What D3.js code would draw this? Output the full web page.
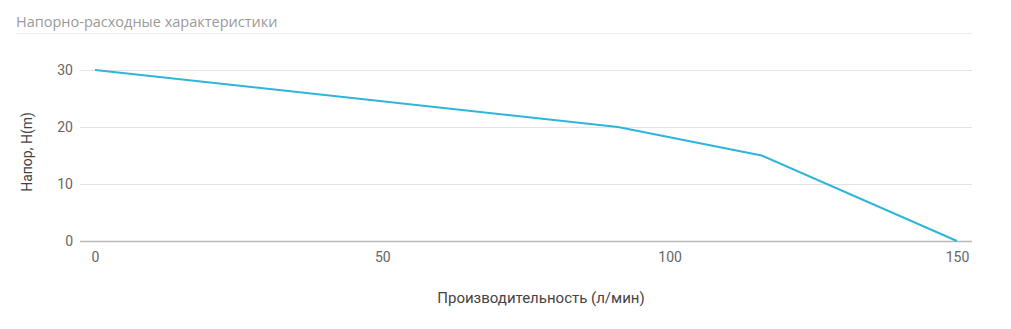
<!DOCTYPE html>
<html>
<head>
<meta charset="utf-8">
<script src="https://cdn.jsdelivr.net/npm/d3@7"></script>
<style>
  body { margin: 0; background: #fff; }
  .title { font-family: "Open Sans", sans-serif; font-size: 14.5px; fill: #9a9a9a; }
  .tick text { font-family: Roboto, sans-serif; font-size: 14px; fill: #666; }
  .axis-title { font-family: Roboto, sans-serif; font-size: 15px; fill: #444; }
</style>
</head>
<body>
<svg id="chart" width="1011" height="329"></svg>
<script>
var flowValues = [0, 91, 116, 150];
var headValues = [30, 20, 15, 0];
var xTicks = [0, 50, 100, 150];
var yTicks = [0, 10, 20, 30];
var titleText = "Напорно-расходные характеристики";
var xTitle = "Производительность (л/мин)";
var yTitle = "Напор, H(m)";

var svg = d3.select("#chart");

// header
svg.append("text").attr("class", "title").attr("x", 16).attr("y", 27).text(titleText);
svg.append("line").attr("x1", 16).attr("x2", 972).attr("y1", 33.5).attr("y2", 33.5)
  .attr("stroke", "#ececec");

var x = d3.scaleLinear().domain([0, 150]).range([95, 957]);
var y = d3.scaleLinear().domain([0, 30]).range([241, 70]);

// grid
svg.append("g").selectAll("line").data(yTicks).enter().append("line")
  .attr("x1", 80).attr("x2", 972)
  .attr("y1", function(d) { return Math.round(y(d)) + 0.5; })
  .attr("y2", function(d) { return Math.round(y(d)) + 0.5; })
  .attr("stroke", function(d) { return d == 0 ? "#b8b8b8" : "#e3e3e3"; })
  .attr("stroke-width", function(d) { return d == 0 ? 1.5 : 1; });

// axes
var yAxis = d3.axisLeft(y).tickValues(yTicks).tickSize(0).tickPadding(0);
svg.append("g").attr("transform", "translate(73,0)").call(yAxis)
  .call(function(g) { g.select(".domain").remove(); });

var xAxis = d3.axisBottom(x).tickValues(xTicks).tickSize(0).tickPadding(0);
svg.append("g").attr("transform", "translate(0,252)").call(xAxis)
  .call(function(g) { g.select(".domain").remove(); });

// titles
svg.append("text").attr("class", "axis-title").attr("x", 541).attr("y", 303)
  .attr("text-anchor", "middle").text(xTitle);
svg.append("text").attr("class", "axis-title")
  .attr("transform", "translate(32,152) rotate(-90)")
  .attr("text-anchor", "middle").style("font-size", "14px").text(yTitle);

// line
var pts = flowValues.map(function(d, i) { return [d, headValues[i]]; });
var line = d3.line().x(function(d) { return x(d[0]); }).y(function(d) { return y(d[1]); });
svg.append("path").datum(pts).attr("d", line)
  .attr("fill", "none").attr("stroke", "#2fb4da").attr("stroke-width", 2);
</script>
</body>
</html>
